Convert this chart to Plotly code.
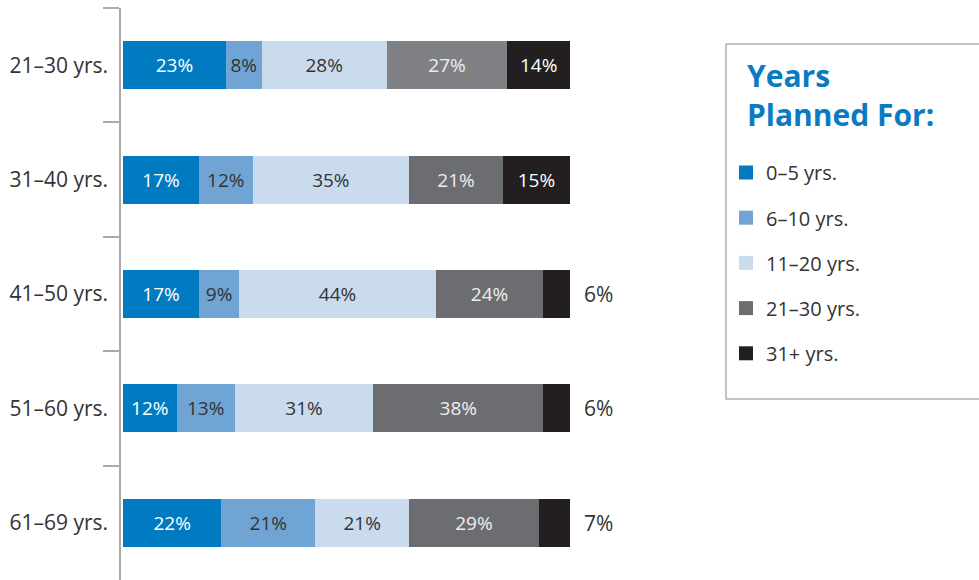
import plotly.graph_objects as go

# Age groups (rows) and planning-horizon shares (%)
age_groups = ["21–30 yrs.", "31–40 yrs.", "41–50 yrs.", "51–60 yrs.", "61–69 yrs."]
horizons = ["0–5 yrs.", "6–10 yrs.", "11–20 yrs.", "21–30 yrs.", "31+ yrs."]

share_0_5 = [23, 17, 17, 12, 22]
share_6_10 = [8, 12, 9, 13, 21]
share_11_20 = [28, 35, 44, 31, 21]
share_21_30 = [27, 21, 24, 38, 29]
share_31_plus = [14, 15, 6, 6, 7]

series = [share_0_5, share_6_10, share_11_20, share_21_30, share_31_plus]

# Segment colours; the first row's 21–30 segment uses a lighter grey
colors = [
    ["#007bc2"] * 5,
    ["#70a4d5"] * 5,
    ["#cbdbee"] * 5,
    ["#808185", "#6c6d71", "#6c6d71", "#6c6d71", "#6c6d71"],
    ["#231f20"] * 5,
]
legend_colors = ["#007bc2", "#70a4d5", "#cbdbee", "#6c6d71", "#231f20"]
text_colors = ["#ffffff", "#333333", "#333333", "#eeeeee", "#ffffff"]

# Small black segments get their label outside the bar
outside_rows = [2, 3, 4]

FONT = "Open Sans"

# Pixel geometry helpers for paper coordinates
PLOT_L, PLOT_R, PLOT_T, PLOT_B = 121, 570, 8, 580


def px_x(px):
    return (px - PLOT_L) / (PLOT_R - PLOT_L)


def px_y(py):
    return (PLOT_B - py) / (PLOT_B - PLOT_T)


fig = go.Figure()
for i, (name, vals) in enumerate(zip(horizons, series)):
    labels = []
    for r, v in enumerate(vals):
        if i == 4 and r in outside_rows:
            labels.append("")
        else:
            labels.append(f"{v}%")
    fig.add_trace(go.Bar(
        y=age_groups,
        x=vals,
        name=name,
        orientation="h",
        marker=dict(color=colors[i], line=dict(width=0)),
        text=labels,
        textposition="inside",
        insidetextanchor="middle",
        textangle=0,
        constraintext="none",
        textfont=dict(family=FONT, size=19, color=text_colors[i]),
        width=0.42,
        hoverinfo="skip",
        showlegend=False,
    ))
    # Legend entry: square swatch in the series colour
    fig.add_trace(go.Scatter(
        x=[None], y=[None], name=name, mode="markers",
        marker=dict(symbol="square", size=14, color=legend_colors[i]),
        legendgroup=name, showlegend=True, hoverinfo="skip",
    ))

# Outside labels for the thin 31+ segments
annotations = []
for r in outside_rows:
    total = sum(s[r] for s in series)
    annotations.append(dict(
        x=total, y=age_groups[r], xref="x", yref="y",
        text=f"{share_31_plus[r]}%", showarrow=False,
        xanchor="left", xshift=12,
        font=dict(family=FONT, size=21, color="#333333"),
    ))

# Legend heading
annotations.append(dict(
    x=px_x(745), y=px_y(53), xref="paper", yref="paper",
    xanchor="left", yanchor="top", align="left",
    text="Years<br>Planned For:", showarrow=False,
    font=dict(family=FONT, size=30, color="#0a7bc2", weight="bold"),
))

fig.update_layout(
    width=979, height=580,
    margin=dict(l=PLOT_L, r=979 - PLOT_R, t=PLOT_T, b=0),
    paper_bgcolor="white", plot_bgcolor="white",
    barmode="stack",
    showlegend=True,
    annotations=annotations,
    legend=dict(
        x=px_x(726), xanchor="left", y=px_y(153), yanchor="top",
        bgcolor="rgba(0,0,0,0)", borderwidth=0,
        font=dict(family=FONT, size=20, color="#333333"),
        tracegroupgap=16.2,
        itemsizing="trace",
        itemclick=False, itemdoubleclick=False,
    ),
    shapes=[dict(
        type="rect", xref="paper", yref="paper",
        x0=px_x(726), x1=px_x(1000),
        y0=px_y(399), y1=px_y(44),
        line=dict(color="#b0b0b0", width=1.5), fillcolor="rgba(0,0,0,0)",
        layer="below",
    )],
)

fig.update_xaxes(range=[-0.45, 100], visible=False, fixedrange=True)
fig.update_yaxes(
    categoryorder="array", categoryarray=age_groups, autorange="reversed",
    showline=True, linecolor="#aaaaaa", linewidth=1.5,
    ticks="outside", ticklen=16, tickcolor="#aaaaaa", tickwidth=1.5,
    tickson="boundaries",
    ticklabelstandoff=7,
    tickfont=dict(family=FONT, size=21, color="#333333"),
    showgrid=False, zeroline=False, fixedrange=True,
)

fig.write_html("out.html")
